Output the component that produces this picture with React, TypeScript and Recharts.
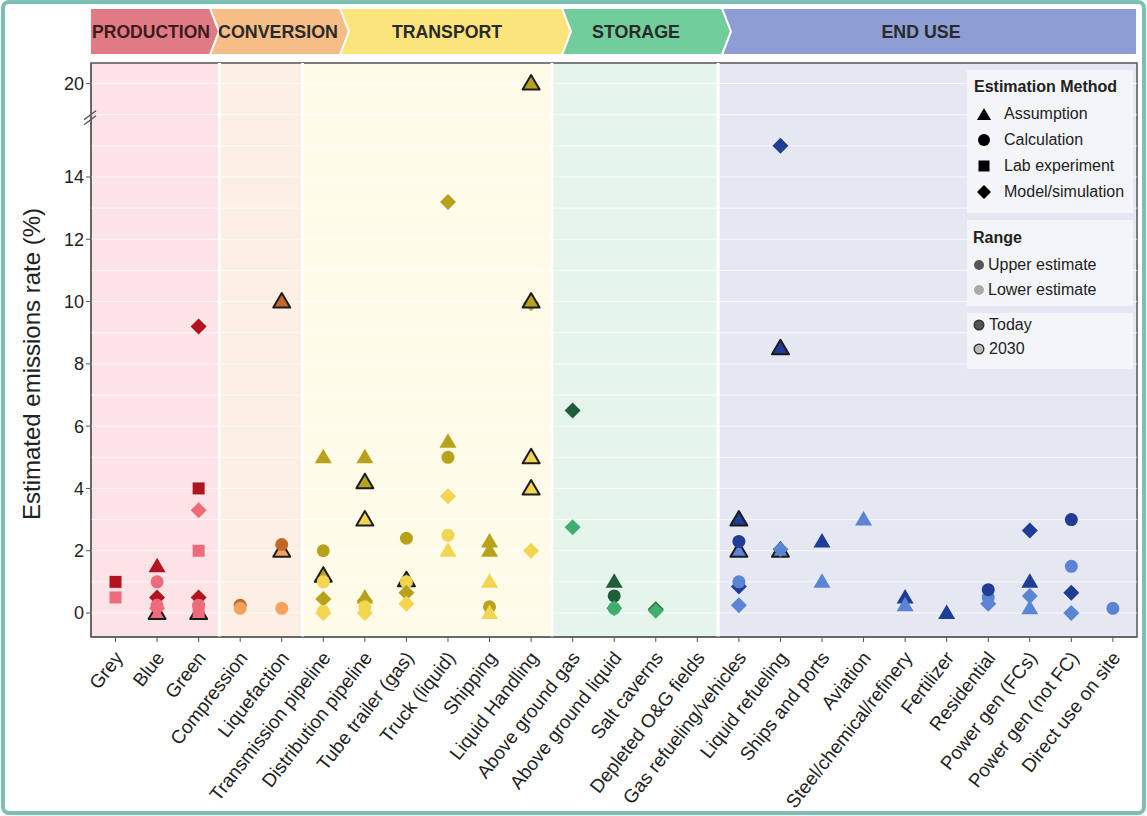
import React from "react";
import {
  ScatterChart,
  Scatter,
  XAxis,
  YAxis,
  ReferenceArea,
  ReferenceLine,
  ReferenceDot,
} from "recharts";

type Method = "A" | "C" | "L" | "M";
type Range = "U" | "L";
// [category, emissions rate %, estimation method, range, outlined marker]
type Pt = [string, number, Method, Range, number];

const categories = [
  "Grey",
  "Blue",
  "Green",
  "Compression",
  "Liquefaction",
  "Transmission pipeline",
  "Distribution pipeline",
  "Tube trailer (gas)",
  "Truck (liquid)",
  "Shipping",
  "Liquid Handling",
  "Above ground gas",
  "Above ground liquid",
  "Salt caverns",
  "Depleted O&G fields",
  "Gas refueling/vehicles",
  "Liquid refueling",
  "Ships and ports",
  "Aviation",
  "Steel/chemical/refinery",
  "Fertilizer",
  "Residential",
  "Power gen (FCs)",
  "Power gen (not FC)",
  "Direct use on site",
];

const sectionNames = ["PRODUCTION", "CONVERSION", "TRANSPORT", "STORAGE", "END USE"];
const sectionSizes = [3, 2, 6, 4, 10];

const productionPoints: Pt[] = [
  ["Grey", 1.0, "L", "U", 0],
  ["Grey", 0.5, "L", "L", 0],
  ["Blue", 0.0, "A", "L", 1],
  ["Blue", 1.5, "A", "U", 0],
  ["Blue", 1.0, "C", "L", 0],
  ["Blue", 0.5, "M", "U", 0],
  ["Blue", 0.25, "C", "L", 0],
  ["Blue", 0.15, "M", "L", 0],
  ["Green", 0.0, "A", "L", 1],
  ["Green", 9.2, "M", "U", 0],
  ["Green", 4.0, "L", "U", 0],
  ["Green", 3.3, "M", "L", 0],
  ["Green", 2.0, "L", "L", 0],
  ["Green", 0.5, "M", "U", 0],
  ["Green", 0.25, "C", "L", 0],
  ["Green", 0.1, "L", "L", 0],
];

const conversionPoints: Pt[] = [
  ["Compression", 0.25, "C", "U", 0],
  ["Compression", 0.15, "C", "L", 0],
  ["Liquefaction", 10.0, "A", "U", 1],
  ["Liquefaction", 2.0, "A", "L", 1],
  ["Liquefaction", 2.2, "C", "U", 0],
  ["Liquefaction", 0.15, "C", "L", 0],
];

const transportPoints: Pt[] = [
  ["Transmission pipeline", 5.0, "A", "U", 0],
  ["Transmission pipeline", 2.0, "C", "U", 0],
  ["Transmission pipeline", 1.2, "A", "U", 1],
  ["Transmission pipeline", 1.0, "C", "L", 0],
  ["Transmission pipeline", 0.45, "M", "U", 0],
  ["Transmission pipeline", 0.05, "C", "L", 0],
  ["Transmission pipeline", 0.0, "M", "L", 0],
  ["Distribution pipeline", 5.0, "A", "U", 0],
  ["Distribution pipeline", 4.2, "A", "U", 1],
  ["Distribution pipeline", 3.0, "A", "L", 1],
  ["Distribution pipeline", 0.5, "A", "U", 0],
  ["Distribution pipeline", 0.4, "M", "U", 0],
  ["Distribution pipeline", 0.2, "C", "L", 0],
  ["Distribution pipeline", 0.0, "M", "L", 0],
  ["Tube trailer (gas)", 2.4, "C", "U", 0],
  ["Tube trailer (gas)", 1.05, "A", "U", 1],
  ["Tube trailer (gas)", 1.0, "C", "L", 0],
  ["Tube trailer (gas)", 0.65, "M", "U", 0],
  ["Tube trailer (gas)", 0.3, "M", "L", 0],
  ["Truck (liquid)", 13.2, "M", "U", 0],
  ["Truck (liquid)", 5.5, "A", "U", 0],
  ["Truck (liquid)", 5.0, "C", "U", 0],
  ["Truck (liquid)", 3.75, "M", "L", 0],
  ["Truck (liquid)", 2.5, "C", "L", 0],
  ["Truck (liquid)", 2.0, "A", "L", 0],
  ["Shipping", 2.3, "A", "U", 0],
  ["Shipping", 2.0, "A", "U", 0],
  ["Shipping", 1.0, "A", "L", 0],
  ["Shipping", 0.2, "C", "U", 0],
  ["Shipping", 0.0, "A", "L", 0],
  ["Liquid Handling", 20.0, "A", "U", 1],
  ["Liquid Handling", 9.95, "M", "U", 0],
  ["Liquid Handling", 10.0, "A", "U", 1],
  ["Liquid Handling", 5.0, "A", "L", 1],
  ["Liquid Handling", 4.0, "A", "L", 1],
  ["Liquid Handling", 2.0, "M", "L", 0],
];

const storagePoints: Pt[] = [
  ["Above ground gas", 6.5, "M", "U", 0],
  ["Above ground gas", 2.75, "M", "L", 0],
  ["Above ground liquid", 1.0, "A", "U", 0],
  ["Above ground liquid", 0.55, "C", "U", 0],
  ["Above ground liquid", 0.15, "M", "L", 0],
  ["Above ground liquid", 0.15, "C", "L", 0],
  ["Salt caverns", 0.12, "M", "U", 0],
  ["Salt caverns", 0.07, "M", "L", 0],
];

const endUsePoints: Pt[] = [
  ["Gas refueling/vehicles", 3.0, "A", "U", 1],
  ["Gas refueling/vehicles", 2.0, "A", "L", 1],
  ["Gas refueling/vehicles", 2.3, "C", "U", 0],
  ["Gas refueling/vehicles", 0.85, "M", "U", 0],
  ["Gas refueling/vehicles", 1.0, "C", "L", 0],
  ["Gas refueling/vehicles", 0.25, "M", "L", 0],
  ["Liquid refueling", 15.0, "M", "U", 0],
  ["Liquid refueling", 8.5, "A", "U", 1],
  ["Liquid refueling", 2.0, "A", "L", 1],
  ["Liquid refueling", 2.05, "M", "L", 0],
  ["Ships and ports", 2.3, "A", "U", 0],
  ["Ships and ports", 1.0, "A", "L", 0],
  ["Aviation", 3.0, "A", "L", 0],
  ["Steel/chemical/refinery", 0.5, "A", "U", 0],
  ["Steel/chemical/refinery", 0.25, "A", "L", 0],
  ["Fertilizer", 0.0, "A", "U", 0],
  ["Residential", 0.5, "C", "L", 0],
  ["Residential", 0.3, "M", "L", 0],
  ["Residential", 0.75, "C", "U", 0],
  ["Power gen (FCs)", 2.65, "M", "U", 0],
  ["Power gen (FCs)", 1.0, "A", "U", 0],
  ["Power gen (FCs)", 0.55, "M", "L", 0],
  ["Power gen (FCs)", 0.15, "A", "L", 0],
  ["Power gen (not FC)", 3.0, "C", "U", 0],
  ["Power gen (not FC)", 1.5, "C", "L", 0],
  ["Power gen (not FC)", 0.65, "M", "U", 0],
  ["Power gen (not FC)", 0.0, "M", "L", 0],
  ["Direct use on site", 0.15, "C", "L", 0],
];

const yTicks = [0, 2, 4, 6, 8, 10, 12, 14, 20];

// colours per section: [upper estimate, lower estimate]
const palette = [
  { U: "#b3121f", L: "#ef6b7b" },
  { U: "#c4682a", L: "#f5a35c" },
  { U: "#b8a21c", L: "#f3d54f" },
  { U: "#1e5e3b", L: "#3fae6e" },
  { U: "#1f3c96", L: "#5a84d4" },
];
const sectionBg = ["#fbe3e6", "#fcefe4", "#fefbe9", "#e5f5ec", "#e5e8f2"];
const headerFill = ["#e07b86", "#f7bd86", "#fbe47c", "#72cd9c", "#8e9ed4"];
const headerEdges = [90, 210, 340, 562, 722, 1137];
const headerTextCenter = [151, 278, 447, 636, 921];
const headerTextWidth = [118, 120, 110, 88, 79];

// broken y axis: everything above 15 is squeezed so that 20 lands at 17
const BREAK = 15;
const toAxis = (v: number) => (v <= BREAK ? v : BREAK + (v - BREAK) * 0.4);
const fromAxis = (v: number) => (v <= BREAK ? v : Math.round(BREAK + (v - BREAK) / 0.4));

const X_MIN = -0.59;
const X_MAX = 24.58;
const Y_MIN = -0.77;
const Y_MAX = 17.66;

const sectionStart = sectionSizes.map((_, i) =>
  sectionSizes.slice(0, i).reduce((a, b) => a + b, 0)
);
const sectionOf = (idx: number) => {
  let s = 0;
  sectionStart.forEach((st, i) => {
    if (idx >= st) s = i;
  });
  return s;
};

const allPoints = [
  ...productionPoints,
  ...conversionPoints,
  ...transportPoints,
  ...storagePoints,
  ...endUsePoints,
].map(([cat, value, method, range, outlined]) => {
  const x = categories.indexOf(cat);
  return { x, y: toAxis(value), value, method, range, outlined, section: sectionOf(x) };
});

const Marker = (props: any) => {
  const { cx, cy, payload } = props;
  if (cx == null || cy == null) return null;
  const fill = palette[payload.section][payload.range as Range];
  const stroke = payload.outlined ? "#1c1c1c" : "none";
  const sw = payload.outlined ? 2 : 0;
  switch (payload.method as Method) {
    case "A":
      return (
        <polygon
          points={`${cx},${cy - 8.5} ${cx + 8.5},${cy + 6} ${cx - 8.5},${cy + 6}`}
          fill={fill}
          stroke={stroke}
          strokeWidth={sw}
          strokeLinejoin="round"
        />
      );
    case "C":
      return <circle cx={cx} cy={cy} r={6.5} fill={fill} stroke={stroke} strokeWidth={sw} />;
    case "L":
      return <rect x={cx - 6} y={cy - 6} width={12} height={12} fill={fill} stroke={stroke} strokeWidth={sw} />;
    default:
      return (
        <polygon
          points={`${cx},${cy - 8} ${cx + 8},${cy} ${cx},${cy + 8} ${cx - 8},${cy}`}
          fill={fill}
          stroke={stroke}
          strokeWidth={sw}
        />
      );
  }
};

const XTick = (props: any) => {
  const { x, y, payload } = props;
  return (
    <g transform={`translate(${x + 3},${y + 10})`}>
      <text
        transform="rotate(-52)"
        textAnchor="end"
        dy="0.35em"
        fontSize={19}
        fill="#222"
      >
        {categories[payload.value]}
      </text>
    </g>
  );
};

const BreakMark = (props: any) => {
  const { cx, cy } = props;
  return (
    <g stroke="#555" strokeWidth={1.4}>
      <line x1={cx - 7} y1={cy + 2} x2={cx + 5} y2={cy - 7} />
      <line x1={cx - 7} y1={cy + 7} x2={cx + 5} y2={cy - 2} />
    </g>
  );
};

const Header = () => {
  const top = 8;
  const bottom = 55;
  const mid = (top + bottom) / 2;
  const d = 9;
  return (
    <svg
      width={1147}
      height={816}
      style={{ position: "absolute", left: 0, top: 0, pointerEvents: "none" }}
    >
      <rect x={3} y={2} width={1141} height={811} rx={6} fill="none" stroke="#7cc0b3" strokeWidth={4} />
      {sectionNames.map((name, i) => {
        const x0 = headerEdges[i];
        const x1 = headerEdges[i + 1];
        const last = i === sectionNames.length - 1;
        const pts = [
          `${x0},${top}`,
          `${x1},${top}`,
          last ? `${x1},${bottom}` : `${x1 + d},${mid}`,
          `${x1},${bottom}`,
          `${x0},${bottom}`,
          i === 0 ? `${x0},${mid}` : `${x0 + d},${mid}`,
        ];
        return (
          <g key={name}>
            <polygon points={pts.join(" ")} fill={headerFill[i]} stroke="#fff" strokeWidth={2} />
            <text
              x={headerTextCenter[i]}
              y={mid}
              dy="0.36em"
              textAnchor="middle"
              textLength={headerTextWidth[i]}
              lengthAdjust="spacingAndGlyphs"
              fontFamily="'Liberation Sans', Arial, sans-serif"
              fontWeight="bold"
              fontSize={19}
              fill={i === 0 ? "#3d1a1c" : "#2a2a2a"}
            >
              {name}
            </text>
          </g>
        );
      })}
    </svg>
  );
};

const legendBox: React.CSSProperties = {
  position: "absolute",
  left: 967,
  width: 166,
  background: "#f4f5f9",
  boxSizing: "border-box",
  fontSize: 16,
  color: "#222",
};

const methodIcons: Record<string, React.ReactNode> = {
  Assumption: <polygon points="7,1 14,13 0,13" fill="#000" />,
  Calculation: <circle cx={7} cy={7} r={6} fill="#000" />,
  "Lab experiment": <rect x={1.5} y={1.5} width={11} height={11} fill="#000" />,
  "Model/simulation": <polygon points="7,0 14,7 7,14 0,7" fill="#000" />,
};

const Legends = () => (
  <>
    <div style={{ ...legendBox, top: 70, height: 143, padding: "8px 0 0 7px" }}>
      <div style={{ fontWeight: "bold", marginBottom: 5 }}>Estimation Method</div>
      {Object.keys(methodIcons).map((k) => (
        <div key={k} style={{ display: "flex", alignItems: "center", height: 26 }}>
          <svg width={14} height={14} style={{ marginLeft: 3, marginRight: 13 }}>
            {methodIcons[k]}
          </svg>
          {k}
        </div>
      ))}
    </div>
    <div style={{ ...legendBox, top: 220, height: 86, padding: "9px 0 0 6px" }}>
      <div style={{ fontWeight: "bold", marginBottom: 5 }}>Range</div>
      {[
        ["Upper estimate", "#555"],
        ["Lower estimate", "#aaa"],
      ].map(([k, c]) => (
        <div key={k} style={{ display: "flex", alignItems: "center", height: 25 }}>
          <svg width={12} height={12} style={{ marginRight: 3 }}>
            <circle cx={6} cy={6} r={5} fill={c} />
          </svg>
          {k}
        </div>
      ))}
    </div>
    <div style={{ ...legendBox, top: 313, height: 56, padding: "0 0 0 6px" }}>
      {[
        ["Today", "#555"],
        ["2030", "#bbb"],
      ].map(([k, c]) => (
        <div key={k} style={{ display: "flex", alignItems: "center", height: 24 }}>
          <svg width={12} height={12} style={{ marginRight: 4 }}>
            <circle cx={6} cy={6} r={4.8} fill={c} stroke="#333" strokeWidth={1.4} />
          </svg>
          {k}
        </div>
      ))}
    </div>
  </>
);

export default function App() {
  const bounds = [X_MIN, ...sectionStart.slice(1).map((s) => s - 0.5), X_MAX];
  const gridValues = Array.from({ length: 18 }, (_, i) => i);
  return (
    <div
      style={{
        position: "absolute",
        left: 0,
        top: 0,
        width: 1147,
        height: 816,
        background: "#fff",
        fontFamily: "'Liberation Sans', Arial, sans-serif",
      }}
    >
      <ScatterChart
        width={1147}
        height={816}
        margin={{ top: 63, right: 10, bottom: 9, left: 31 }}
      >
        <XAxis
          type="number"
          dataKey="x"
          domain={[X_MIN, X_MAX]}
          ticks={categories.map((_, i) => i)}
          interval={0}
          allowDataOverflow
          height={170}
          tick={<XTick />}
          tickSize={5}
          tickLine={{ stroke: "#555" }}
          axisLine={{ stroke: "#555" }}
        />
        <YAxis
          type="number"
          dataKey="y"
          domain={[Y_MIN, Y_MAX]}
          ticks={yTicks.map(toAxis)}
          tickFormatter={(v: number) => String(fromAxis(v))}
          allowDataOverflow
          width={60}
          tickSize={5}
          tick={{ fontSize: 18, fill: "#222" }}
          tickLine={{ stroke: "#555" }}
          axisLine={{ stroke: "#555" }}
          label={{
            content: (p: any) => {
              const vb = p.viewBox || {};
              const cx = 31;
              const cy = (vb.y ?? 63) + (vb.height ?? 574) / 2 + 14;
              return (
                <text
                  x={cx}
                  y={cy}
                  transform={`rotate(-90, ${cx}, ${cy})`}
                  textAnchor="middle"
                  dominantBaseline="central"
                  fontSize={24}
                  fill="#222"
                >
                  Estimated emissions rate (%)
                </text>
              );
            },
          }}
        />
        {sectionNames.map((name, i) => (
          <ReferenceArea
            key={name}
            x1={bounds[i]}
            x2={bounds[i + 1]}
            y1={Y_MIN}
            y2={Y_MAX}
            fill={sectionBg[i]}
            fillOpacity={1}
            stroke="none"
            ifOverflow="hidden"
          />
        ))}
        {gridValues.map((g) => (
          <ReferenceLine key={`g${g}`} y={g} stroke="#ffffff" strokeOpacity={0.75} strokeWidth={1} />
        ))}
        {bounds.slice(1, -1).map((b) => (
          <ReferenceLine key={`b${b}`} x={b} stroke="#ffffff" strokeWidth={3} />
        ))}
        <ReferenceArea
          x1={X_MIN}
          x2={X_MAX}
          y1={Y_MIN}
          y2={Y_MAX}
          fill="none"
          stroke="#555"
          strokeWidth={1.5}
        />
        <Scatter data={allPoints} shape={<Marker />} isAnimationActive={false} />
        <ReferenceDot x={X_MIN} y={15.9} ifOverflow="visible" shape={<BreakMark />} />
      </ScatterChart>
      <Header />
      <Legends />
    </div>
  );
}
